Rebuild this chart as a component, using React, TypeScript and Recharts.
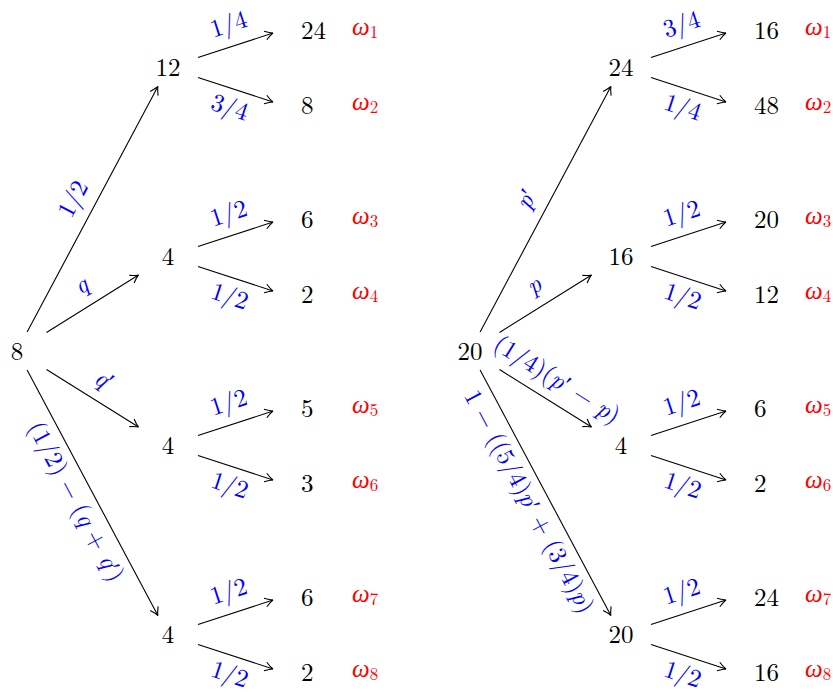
import { Scatter, ScatterChart, XAxis, YAxis } from "recharts";

// left tree
const leftRoot = 8;
const leftMiddle = [12, 4, 4, 4];
const leftLeaves = [24, 8, 6, 2, 5, 3, 6, 2];
const leftRootProbs = ["1/2", "q", "q′", "(1/2) − (q + q′)"];
const leftLeafProbs = ["1/4", "3/4", "1/2", "1/2", "1/2", "1/2", "1/2", "1/2"];

// right tree
const rightRoot = 20;
const rightMiddle = [24, 16, 4, 20];
const rightLeaves = [16, 48, 20, 12, 6, 2, 24, 16];
const rightRootProbs = ["p′", "p", "(1/4)(p′ − p)", "1 − ((5/4)p′ + (3/4)p)"];
const rightLeafProbs = ["3/4", "1/4", "1/2", "1/2", "1/2", "1/2", "1/2", "1/2"];

const outcomes = ["1", "2", "3", "4", "5", "6", "7", "8"];

const FONT = '"Latin Modern Roman"';
const BLUE = "#0000ff";
const RED = "#ff0000";
const PAIR_GAP = 0.52;

type Node = { x: number; y: number; label: string; kind: "root" | "mid" | "leaf"; outcome?: string };
type Edge = { from: Node; to: Node; prob: string; side: "above" | "below"; kind: "root" | "leaf" };

function buildTree(root: number, middle: number[], leaves: number[], rootProbs: string[], leafProbs: string[], x0: number) {
  const leafNodes: Node[] = leaves.map((v, i) => ({
    x: x0 + 2,
    y: i + Math.floor(i / 2) * PAIR_GAP,
    label: String(v),
    kind: "leaf",
    outcome: outcomes[i],
  }));
  const midNodes: Node[] = middle.map((v, i) => ({
    x: x0 + 1,
    y: (leafNodes[2 * i].y + leafNodes[2 * i + 1].y) / 2,
    label: String(v),
    kind: "mid",
  }));
  const rootNode: Node = {
    x: x0,
    y: (midNodes[0].y + midNodes[midNodes.length - 1].y) / 2,
    label: String(root),
    kind: "root",
  };
  const edges: Edge[] = [
    ...midNodes.map((m, i) => ({
      from: rootNode,
      to: m,
      prob: rootProbs[i],
      side: (i === 3 ? "below" : "above") as Edge["side"],
      kind: "root" as const,
    })),
    ...leafNodes.map((l, i) => ({
      from: midNodes[Math.floor(i / 2)],
      to: l,
      prob: leafProbs[i],
      side: (i % 2 === 0 ? "above" : "below") as Edge["side"],
      kind: "leaf" as const,
    })),
  ];
  return { nodes: [rootNode, ...midNodes, ...leafNodes], edges };
}

const left = buildTree(leftRoot, leftMiddle, leftLeaves, leftRootProbs, leftLeafProbs, 0);
const right = buildTree(rightRoot, rightMiddle, rightLeaves, rightRootProbs, rightLeafProbs, 3);
const allNodes = [...left.nodes, ...right.nodes];
const allEdges = [...left.edges, ...right.edges];

// letters italic, digits and signs upright
function MathText({ s }: { s: string }) {
  const parts = s.match(/[a-z]|[^a-z]+/g) || [];
  return (
    <>
      {parts.map((p, i) => (
        <tspan key={i} style={{ fontFamily: FONT, fontStyle: /[a-z]/.test(p) ? "italic" : "normal" }}>
          {p}
        </tspan>
      ))}
    </>
  );
}

function renderNode(props: any) {
  const { cx, cy, payload } = props;
  if (payload.kind === "leaf") {
    return (
      <g>
        <text x={cx - 18} y={cy + 8.5} fill="#000" style={{ fontFamily: FONT, fontSize: 25 }}>
          {payload.label}
        </text>
        <text x={cx + 33} y={cy + 5} fill={RED} style={{ fontFamily: FONT }}>
          <tspan style={{ fontFamily: FONT, fontSize: 25, fontStyle: "italic" }}>ω</tspan>
          <tspan dy={3} style={{ fontFamily: FONT, fontSize: 17 }}>{payload.outcome}</tspan>
        </text>
      </g>
    );
  }
  return (
    <text x={cx} y={cy + 8.5} textAnchor="middle" fill="#000" style={{ fontFamily: FONT, fontSize: 25 }}>
      {payload.label}
    </text>
  );
}

function edgeRenderer(edge: Edge) {
  return (props: any) => {
    const [p, c] = props.points;
    let sx: number, sy: number, ex: number, ey: number;
    if (edge.kind === "root") {
      const dx = c.x - p.x;
      const dy = c.y - p.y;
      const t = Math.min(29.5 / Math.abs(dx), 19 / Math.abs(dy));
      sx = p.x + dx * t;
      sy = p.y + dy * t;
      ex = c.x - dx * t;
      ey = c.y - dy * t;
    } else {
      const up = c.y < p.y;
      sx = p.x + 30;
      sy = p.y + (up ? -10 : 10);
      ex = c.x - 46;
      ey = c.y + (up ? 3 : -3);
    }
    const len = Math.hypot(ex - sx, ey - sy);
    const ux = (ex - sx) / len;
    const uy = (ey - sy) / len;
    const nx = -uy;
    const ny = ux;
    const b1 = [ex - ux * 8 + nx * 4.5, ey - uy * 8 + ny * 4.5];
    const b2 = [ex - ux * 8 - nx * 4.5, ey - uy * 8 - ny * 4.5];
    const c1 = [ex - ux * 3 + nx * 1, ey - uy * 3 + ny * 1];
    const c2 = [ex - ux * 3 - nx * 1, ey - uy * 3 - ny * 1];
    const mx = (sx + ex) / 2;
    const my = (sy + ey) / 2;
    const angle = (Math.atan2(uy, ux) * 180) / Math.PI;
    return (
      <g>
        <line x1={sx} y1={sy} x2={ex} y2={ey} stroke="#000" strokeWidth={1.1} />
        <path
          d={`M${b1[0]},${b1[1]} Q${c1[0]},${c1[1]} ${ex},${ey} M${b2[0]},${b2[1]} Q${c2[0]},${c2[1]} ${ex},${ey}`}
          fill="none"
          stroke="#000"
          strokeWidth={1.1}
        />
        <g transform={`translate(${mx},${my}) rotate(${angle})`}>
          <text
            x={0}
            y={edge.side === "above" ? -14 : 26.5}
            textAnchor="middle"
            fill={BLUE}
            style={{ fontFamily: FONT, fontSize: 25 }}
          >
            <MathText s={edge.prob} />
          </text>
        </g>
      </g>
    );
  };
}

export default function App() {
  return (
    <div style={{ position: "absolute", left: 0, top: 0, width: 833, height: 692, background: "#fff", fontFamily: FONT }}>
      <ScatterChart width={833} height={692} margin={{ top: 30, right: 61, bottom: 20, left: 17 }}>
        <XAxis type="number" dataKey="x" domain={[0, 5]} hide />
        <YAxis type="number" dataKey="y" domain={[0, 8.56]} reversed hide />
        {allEdges.map((e, i) => (
          <Scatter
            key={`edge-${i}`}
            data={[e.from, e.to]}
            line={edgeRenderer(e)}
            shape={() => <g />}
            isAnimationActive={false}
          />
        ))}
        <Scatter data={allNodes} shape={renderNode} isAnimationActive={false} />
      </ScatterChart>
    </div>
  );
}
